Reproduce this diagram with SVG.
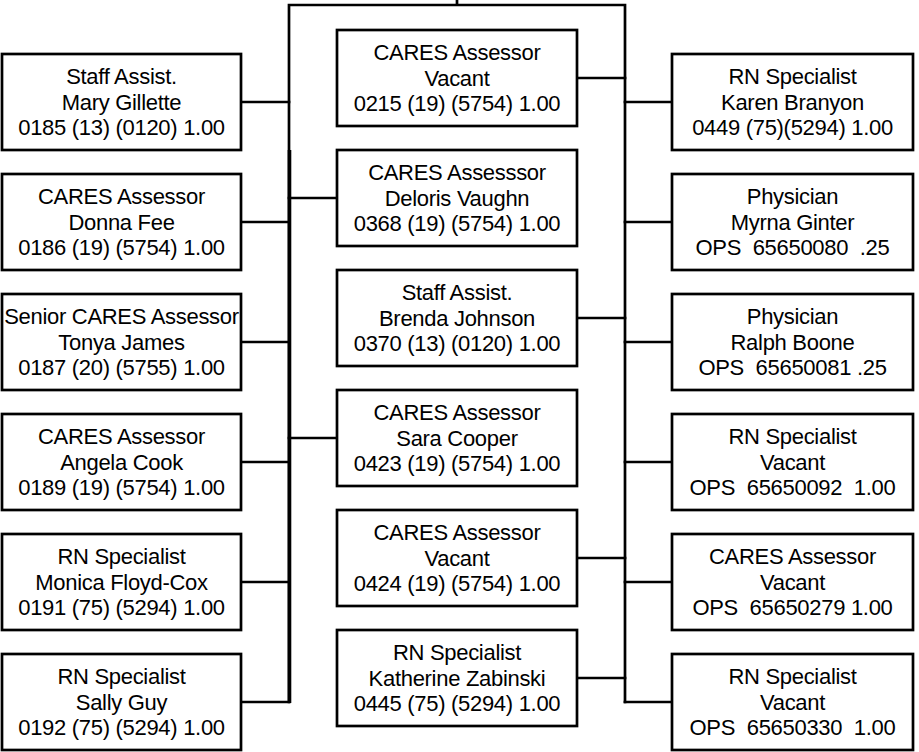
<svg xmlns="http://www.w3.org/2000/svg" width="919" height="752" viewBox="0 0 919 752">
<style>
.box{fill:#fff;stroke:#000;stroke-width:2.7}
.ln{fill:none;stroke:#000;stroke-width:2.7;stroke-linecap:square}
text{font-family:"Liberation Sans",Arial,sans-serif;font-size:22px;letter-spacing:-0.3px;fill:#000;text-anchor:middle;white-space:pre}
</style>
<rect width="919" height="752" fill="#fff"/>
<g id="connectors">
<path class="ln" d="M457,0V5M289,5H625M289,5V702M625,5V702"/>
<path class="ln" style="stroke-width:3.6;stroke-linecap:butt" d="M289.5,150V703"/>
<path class="ln" d="M241,102H289M241,222H289M241,342H289M241,462H289M241,582H289M241,702H289"/>
<path class="ln" d="M289,198H337M289,438H337"/>
<path class="ln" d="M577,78H625M577,318H625M577,558H625M577,678H625"/>
<path class="ln" d="M625,102H672M625,222H672M625,342H672M625,462H672M625,582H672M625,702H672"/>
</g>
<g id="l1"><rect class="box" x="2" y="54" width="239" height="96"/><text x="121.5" y="84">Staff Assist.</text><text x="121.5" y="109.5">Mary Gillette</text><text x="121.5" y="135">0185 (13) (0120) 1.00</text></g>
<g id="l2"><rect class="box" x="2" y="174" width="239" height="96"/><text x="121.5" y="204">CARES Assessor</text><text x="121.5" y="229.5">Donna Fee</text><text x="121.5" y="255">0186 (19) (5754) 1.00</text></g>
<g id="l3"><rect class="box" x="2" y="294" width="239" height="96"/><text x="121.5" y="324">Senior CARES Assessor</text><text x="121.5" y="349.5">Tonya James</text><text x="121.5" y="375">0187 (20) (5755) 1.00</text></g>
<g id="l4"><rect class="box" x="2" y="414" width="239" height="96"/><text x="121.5" y="444">CARES Assessor</text><text x="121.5" y="469.5">Angela Cook</text><text x="121.5" y="495">0189 (19) (5754) 1.00</text></g>
<g id="l5"><rect class="box" x="2" y="534" width="239" height="96"/><text x="121.5" y="564">RN Specialist</text><text x="121.5" y="589.5">Monica Floyd-Cox</text><text x="121.5" y="615">0191 (75) (5294) 1.00</text></g>
<g id="l6"><rect class="box" x="2" y="654" width="239" height="96"/><text x="121.5" y="684">RN Specialist</text><text x="121.5" y="709.5">Sally Guy</text><text x="121.5" y="735">0192 (75) (5294) 1.00</text></g>
<g id="c1"><rect class="box" x="337" y="30" width="240" height="96"/><text x="457" y="60">CARES Assessor</text><text x="457" y="85.5">Vacant</text><text x="457" y="111">0215 (19) (5754) 1.00</text></g>
<g id="c2"><rect class="box" x="337" y="150" width="240" height="96"/><text x="457" y="180">CARES Assesssor</text><text x="457" y="205.5">Deloris Vaughn</text><text x="457" y="231">0368 (19) (5754) 1.00</text></g>
<g id="c3"><rect class="box" x="337" y="270" width="240" height="96"/><text x="457" y="300">Staff Assist.</text><text x="457" y="325.5">Brenda Johnson</text><text x="457" y="351">0370 (13) (0120) 1.00</text></g>
<g id="c4"><rect class="box" x="337" y="390" width="240" height="96"/><text x="457" y="420">CARES Assessor</text><text x="457" y="445.5">Sara Cooper</text><text x="457" y="471">0423 (19) (5754) 1.00</text></g>
<g id="c5"><rect class="box" x="337" y="510" width="240" height="96"/><text x="457" y="540">CARES Assessor</text><text x="457" y="565.5">Vacant</text><text x="457" y="591">0424 (19) (5754) 1.00</text></g>
<g id="c6"><rect class="box" x="337" y="630" width="240" height="96"/><text x="457" y="660">RN Specialist</text><text x="457" y="685.5">Katherine Zabinski</text><text x="457" y="711">0445 (75) (5294) 1.00</text></g>
<g id="r1"><rect class="box" x="672" y="54" width="241" height="96"/><text x="792.5" y="84">RN Specialist</text><text x="792.5" y="109.5">Karen Branyon</text><text x="792.5" y="135">0449 (75)(5294) 1.00</text></g>
<g id="r2"><rect class="box" x="672" y="174" width="241" height="96"/><text x="792.5" y="204">Physician</text><text x="792.5" y="229.5">Myrna Ginter</text><text x="792.5" y="255">OPS  65650080  .25</text></g>
<g id="r3"><rect class="box" x="672" y="294" width="241" height="96"/><text x="792.5" y="324">Physician</text><text x="792.5" y="349.5">Ralph Boone</text><text x="792.5" y="375">OPS  65650081 .25</text></g>
<g id="r4"><rect class="box" x="672" y="414" width="241" height="96"/><text x="792.5" y="444">RN Specialist</text><text x="792.5" y="469.5">Vacant</text><text x="792.5" y="495">OPS  65650092  1.00</text></g>
<g id="r5"><rect class="box" x="672" y="534" width="241" height="96"/><text x="792.5" y="564">CARES Assessor</text><text x="792.5" y="589.5">Vacant</text><text x="792.5" y="615">OPS  65650279 1.00</text></g>
<g id="r6"><rect class="box" x="672" y="654" width="241" height="96"/><text x="792.5" y="684">RN Specialist</text><text x="792.5" y="709.5">Vacant</text><text x="792.5" y="735">OPS  65650330  1.00</text></g>
</svg>
